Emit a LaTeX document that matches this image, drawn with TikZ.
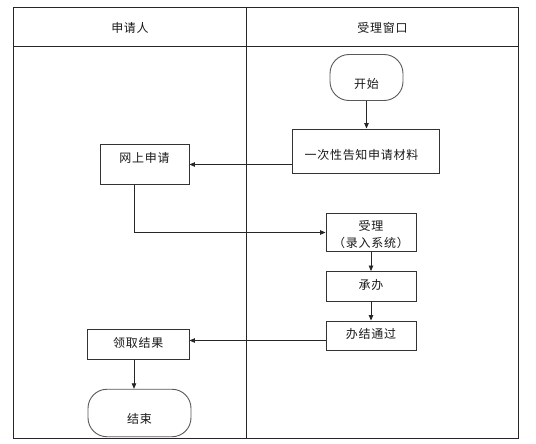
\documentclass[tikz,border=0pt]{standalone}
\usepackage{fontspec}
\setmainfont[LetterSpace=6]{Noto Sans CJK SC}
\usetikzlibrary{arrows.meta}
\tikzset{
  box/.style={draw=black!80, line width=0.9pt, inner sep=0pt, fill=white},
  term/.style={box, draw=black!65, rounded corners=19pt},
  txt/.style={font=\fontsize{12}{14}\selectfont, inner sep=0pt, text=black!90},
  arr/.style={-{Triangle[length=5.5pt,width=4.5pt]}, line width=0.8pt, draw=black!85},
  lane/.style={line width=0.9pt, draw=black!85}
}
\begin{document}
\begin{tikzpicture}[x=1pt,y=-1pt]
\useasboundingbox (0,0) rectangle (536,444);
% swimlane frame
\draw[lane] (13.5,438.5) -- (13.5,7) -- (518.5,7) -- (518.5,438.5) -- cycle;
\draw[lane] (13.5,46.5) -- (518.5,46.5);
\draw[lane] (246.5,7) -- (246.5,438.5);
\node[txt] (h1) at (130,28) {申请人};
\node[txt] (h2) at (382.5,28) {受理窗口};
% boxes
\node[term, minimum width=73pt, minimum height=46pt] (start) at (366.5,77.5) {};
\node[txt] (startt) at (366.5,83.5) {开始};
\node[box, minimum width=146.5pt, minimum height=44.5pt] (yici) at (365.75,151.25) {};
\node[txt] (yicit) at (361.5,154.5) {一次性告知申请材料};
\node[box, minimum width=89pt, minimum height=40pt] (wangshang) at (144.5,164.5) {};
\node[txt] (wangshangt) at (144.5,157.5) {网上申请};
\node[box, minimum width=90pt, minimum height=38pt] (shouli) at (371,232.5) {};
\node[txt] (shoulit1) at (371,226) {受理};
\node[txt] (shoulit2) at (371,243) {（录入系统）};
\node[box, minimum width=90pt, minimum height=29.5pt] (chengban) at (371,286.25) {};
\node[txt] (chengbant) at (371,285) {承办};
\node[box, minimum width=90pt, minimum height=29pt] (banjie) at (371,335.5) {};
\node[txt] (banjiet) at (371,334) {办结通过};
\node[box, minimum width=101.5pt, minimum height=30pt] (lingqu) at (138.25,344.5) {};
\node[txt] (lingqut) at (138.25,343) {领取结果};
\node[term, minimum width=103pt, minimum height=47.5pt] (jieshu) at (139.5,413) {};
\node[txt] (jieshut) at (139.5,419) {结束};
% connectors
\draw[arr] (start.south) -- (start.south |- yici.north);
\draw[arr] (wangshang.east -| yici.west) -- (wangshang.east);
\draw[arr] ([xshift=-10.5pt]wangshang.south) |- (shouli.west);
\draw[arr] (shouli.south) -- (chengban.north);
\draw[arr] (chengban.south) -- (banjie.north);
\draw[arr] ([yshift=-5pt]banjie.west) -- ([yshift=-5pt]banjie.west -| lingqu.east);
\draw[arr] ([xshift=-4.25pt]lingqu.south) -- ([xshift=-4.25pt]lingqu.south |- jieshu.north);
\end{tikzpicture}
\end{document}
